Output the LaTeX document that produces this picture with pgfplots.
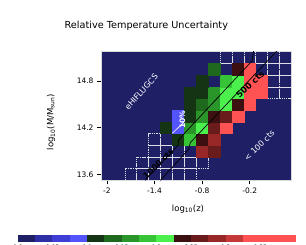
\documentclass[border=0pt]{standalone}
\usepackage{fontspec}
\setmainfont{DejaVu Sans}
\usepackage{pgfplots}
\pgfplotsset{compat=1.18}
\usepackage{pgfplotstable}

\definecolor{bgnavy}{RGB}{31,31,102}
\definecolor{tuc0}{RGB}{31,31,102}
\definecolor{tuc1}{RGB}{46,46,165}
\definecolor{tuc2}{RGB}{62,62,215}
\definecolor{tuc3}{RGB}{84,84,252}
\definecolor{tuc4}{RGB}{20,52,20}
\definecolor{tuc5}{RGB}{30,105,30}
\definecolor{tuc6}{RGB}{42,150,42}
\definecolor{tuc7}{RGB}{54,195,54}
\definecolor{tuc8}{RGB}{76,240,76}
\definecolor{tuc9}{RGB}{60,16,16}
\definecolor{tuc10}{RGB}{106,28,28}
\definecolor{tuc11}{RGB}{152,40,40}
\definecolor{tuc12}{RGB}{196,56,56}
\definecolor{tuc13}{RGB}{255,82,82}
\definecolor{tuc14}{RGB}{255,82,82}
\definecolor{tuc15}{RGB}{255,82,82}

\pgfdeclareplotmark{cell}{\pgfpathrectangle{\pgfpoint{-5.95pt}{-5.85pt}}{\pgfpoint{11.9pt}{11.7pt}}\pgfusepathqfillstroke}
\pgfdeclareplotmark{cellframe}{\pgfpathrectangle{\pgfpoint{-5.95pt}{-5.85pt}}{\pgfpoint{11.9pt}{11.7pt}}\pgfusepathqstroke}
\pgfdeclareplotmark{cbcell}{\pgfpathrectangle{\pgfpoint{-8.656pt}{-3pt}}{\pgfpoint{17.3125pt}{6pt}}\pgfusepathqfillstroke}

\pgfplotsset{
  tucclasses/.style={scatter/classes={
    k0={draw=tuc0,fill=tuc0}, k1={draw=tuc1,fill=tuc1}, k2={draw=tuc2,fill=tuc2}, k3={draw=tuc3,fill=tuc3},
    k4={draw=tuc4,fill=tuc4}, k5={draw=tuc5,fill=tuc5}, k6={draw=tuc6,fill=tuc6}, k7={draw=tuc7,fill=tuc7},
    k8={draw=tuc8,fill=tuc8}, k9={draw=tuc9,fill=tuc9}, k10={draw=tuc10,fill=tuc10}, k11={draw=tuc11,fill=tuc11},
    k12={draw=tuc12,fill=tuc12}, k13={draw=tuc13,fill=tuc13}, k14={draw=tuc14,fill=tuc14}, k15={draw=tuc15,fill=tuc15}}}
}

% coloured cells: x = log10(z), y = log10(M), c = colour class (steps of 0.025 in relative uncertainty)
\pgfplotstableread{
x y c
-0.8 13.9 k11
-0.65 13.9 k10
-1.1 14.05 k4
-0.95 14.05 k7
-0.8 14.05 k9
-0.65 14.05 k11
-1.25 14.2 k4
-1.1 14.2 k3
-0.95 14.2 k6
-0.8 14.2 k8
-0.65 14.2 k10
-0.5 14.2 k13
-1.1 14.35 k3
-0.95 14.35 k4
-0.8 14.35 k6
-0.65 14.35 k9
-0.5 14.35 k10
-0.35 14.35 k13
-0.95 14.5 k4
-0.8 14.5 k5
-0.65 14.5 k6
-0.5 14.5 k8
-0.35 14.5 k9
-0.2 14.5 k13
-0.95 14.65 k4
-0.8 14.65 k4
-0.65 14.65 k6
-0.5 14.65 k8
-0.35 14.65 k8
-0.2 14.65 k13
-0.05 14.65 k13
-0.8 14.8 k4
-0.5 14.8 k7
-0.35 14.8 k8
-0.2 14.8 k13
-0.05 14.8 k13
-0.65 14.95 k5
-0.35 14.95 k9
-0.2 14.95 k13
}\colored

% cells with clusters but below the count limit (outlined only)
\pgfplotstableread{
x y
-0.5 15.1
-0.35 15.1
-0.2 15.1
-0.05 15.1
0.1 15.1
0.25 15.1
-0.5 14.95
-0.05 14.95
0.1 14.95
0.25 14.95
-0.65 14.8
0.1 14.8
0.25 14.8
0.1 14.65
0.25 14.65
-1.4 14.05
-1.25 14.05
-1.4 13.9
-1.25 13.9
-1.1 13.9
-0.95 13.9
-1.55 13.75
-1.4 13.75
-1.25 13.75
-1.1 13.75
-0.95 13.75
-0.8 13.75
-1.7 13.6
-1.55 13.6
-1.4 13.6
-1.25 13.6
-1.1 13.6
-0.95 13.6
}\nodata

\pgfplotstableread{
x y c
0.0125 0.5 k0
0.0375 0.5 k1
0.0625 0.5 k2
0.0875 0.5 k3
0.1125 0.5 k4
0.1375 0.5 k5
0.1625 0.5 k6
0.1875 0.5 k7
0.2125 0.5 k8
0.2375 0.5 k9
0.2625 0.5 k10
0.2875 0.5 k11
0.3125 0.5 k12
0.3375 0.5 k13
0.3625 0.5 k14
0.3875 0.5 k15
}\cbar

\begin{document}
\begin{tikzpicture}[x=1pt,y=1pt]
\begin{axis}[
  at={(101pt,64.6pt)}, anchor=south west,
  scale only axis, width=190.4pt, height=128.7pt,
  xmin=-2.075, xmax=0.325, ymin=13.525, ymax=15.175,
  axis background/.style={fill=bgnavy},
  axis line style={white!70!gray, line width=0.5pt},
  tick align=outside, xtick pos=left, ytick pos=left,
  major tick length=4pt,
  every tick/.style={black, line width=0.6pt},
  xtick={-2,-1.4,-0.8,-0.2}, xticklabels={-2,-1.4,-0.8,-0.2},
  ytick={13.6,14.2,14.8}, yticklabels={13.6,14.2,14.8},
  /pgf/number format/assume math mode=true,
  ticklabel style={font=\fontsize{7.5}{8}\selectfont},
  xticklabel style={yshift=-0.5pt},
  clip marker paths=true,
]
\addplot[only marks, mark=cellframe,
  mark options={white!85!bgnavy, line width=0.45pt, dash pattern=on 1.3pt off 0.9pt}]
  table[x=x,y=y] {\nodata};
\addplot[only marks, mark=cellframe,
  mark options={white!85!bgnavy, line width=0.45pt, dash pattern=on 1.3pt off 0.9pt}]
  table[x=x,y=y] {\colored};
\addplot[scatter, only marks, mark=cell, scatter src=explicit symbolic, tucclasses]
  table[x=x,y=y,meta=c] {\colored};
% 10% contour
\addplot[white, line width=0.6pt] coordinates {(-1.175,14.13) (-1.03,14.27)};
% count contours
\addplot[black, line width=0.7pt] coordinates {(-1.52,13.525) (-1.107,13.973) (-1.095,14.05) (-0.171,15.057) (-0.149,15.2)};
\addplot[black, line width=0.7pt] coordinates {(-1.328,13.525) (-0.971,13.922) (-0.950,14.008) (0.164,15.208)};
\node[white, rotate=48, font=\fontsize{8}{9}\selectfont] at (axis cs:-1.567,14.661) {eHIFLUGCS};
\node[white, rotate=45, font=\fontsize{8}{9}\selectfont] at (axis cs:-0.079,13.973) {\textless{} 100 cts};
\node[black, rotate=44, font=\bfseries\fontsize{8}{9}\selectfont] at (axis cs:-1.353,13.74) {1000 cts};
\node[black, rotate=43, font=\bfseries\fontsize{8.5}{9}\selectfont] at (axis cs:-0.193,14.757) {500 cts};
\node[white, rotate=90, inner sep=0pt, font=\bfseries\fontsize{7.5}{8}\selectfont] at (axis cs:-1.05,14.3) {10\%};
\end{axis}

\begin{axis}[
  at={(18pt,4pt)}, anchor=south west,
  scale only axis, width=277pt, height=6pt,
  xmin=0, xmax=0.4, ymin=0, ymax=1,
  ytick=\empty,
  xtick={0,0.05,0.1,0.15,0.2,0.25,0.3,0.35},
  xticklabels={0.0,0.05,0.1,0.15,0.2,0.25,0.3,0.35},
  /pgf/number format/assume math mode=true,
  tick align=outside, xtick pos=left, major tick length=1.5pt,
  every tick/.style={black, line width=0.4pt},
  ticklabel style={font=\fontsize{6}{6}\selectfont},
  xticklabel style={yshift=1pt},
  axis line style={gray!60, line width=0.5pt},
  axis on top,
]
\addplot[scatter, only marks, mark=cbcell, scatter src=explicit symbolic, tucclasses]
  table[x=x,y=y,meta=c] {\cbar};
\end{axis}

\node[font=\fontsize{9.7}{11}\selectfont] at (146.3,219) {Relative Temperature Uncertainty};
\node[font=\fontsize{8.5}{10}\selectfont, rotate=90] at (51,123) {log\textsubscript{10}(M/M\textsubscript{sun})};
\node[font=\fontsize{8.5}{10}\selectfont] at (188,36) {log\textsubscript{10}(z)};

\pgfresetboundingbox
\path (0,0) rectangle (306,245);
\end{tikzpicture}
\end{document}
